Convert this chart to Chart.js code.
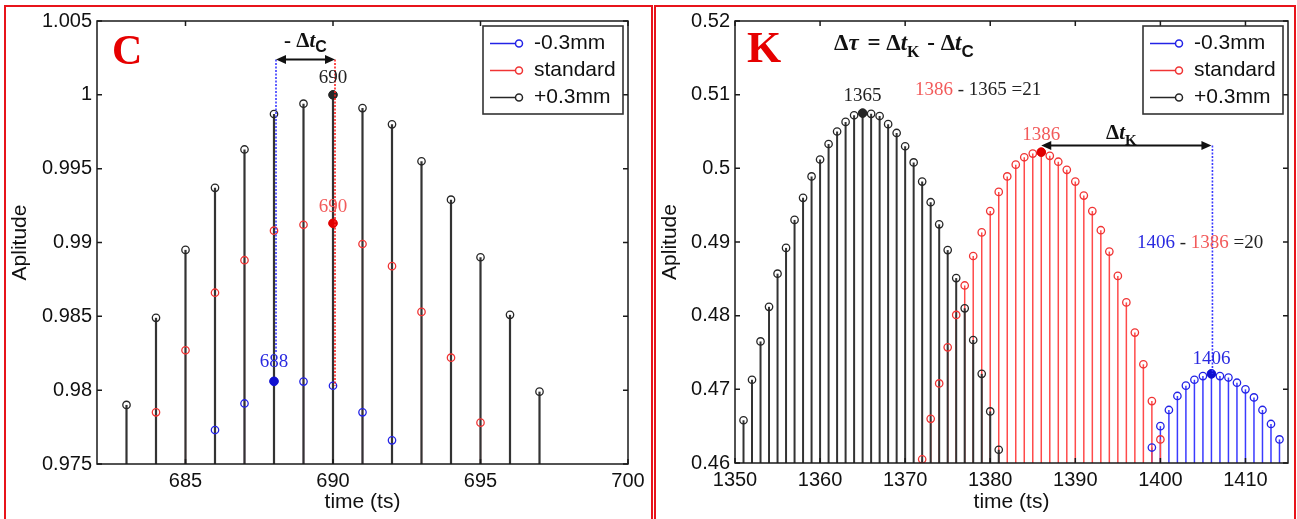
<!DOCTYPE html>
<html lang="en">
<head>
<meta charset="UTF-8">
<title>Stem plots C / K</title>
<script src="https://cdn.jsdelivr.net/npm/chart.js"></script>
<style>
    body { margin: 0; background: #fff; width: 1297px; height: 519px; overflow: hidden; position: relative; }
    .panel { position: absolute; top: 5px; height: 530px; border: 2px solid #e8141b; box-sizing: border-box; }
    #panelC { left: 4px; width: 649px; }
    #panelK { left: 654px; width: 642px; }
    canvas { position: absolute; top: 0; }
    #chartC { left: 0; }
    #chartK { left: 650px; }
</style>
</head>
<body>
<div class="panel" id="panelC"></div>
<div class="panel" id="panelK"></div>
<canvas id="chartC" width="650" height="519"></canvas>
<canvas id="chartK" width="647" height="519"></canvas>

<script>
    // ---- panel C ----
    const cPlusT = [683, 684, 685, 686, 687, 688, 689, 690, 691, 692, 693, 694, 695, 696, 697];
    const cPlus = [0.9790, 0.9849, 0.9895, 0.9937, 0.9963, 0.9987, 0.9994, 1.0000, 0.9991, 0.9980, 0.9955, 0.9929, 0.9890, 0.9851, 0.9799];
    const cStdT = [684, 685, 686, 687, 688, 689, 690, 691, 692, 693, 694, 695];
    const cStd = [0.9785, 0.9827, 0.9866, 0.9888, 0.9908, 0.9912, 0.9913, 0.9899, 0.9884, 0.9853, 0.9822, 0.9778];
    const cMinusT = [686, 687, 688, 689, 690, 691, 692];
    const cMinus = [0.9773, 0.9791, 0.9806, 0.98058, 0.9803, 0.9785, 0.9766];
    const cXTicks = [685, 690, 695, 700];
    const cYTicks = [0.975, 0.98, 0.985, 0.99, 0.995, 1, 1.005];
    const cYLabels = ['0.975', '0.98', '0.985', '0.99', '0.995', '1', '1.005'];

    // ---- panel K ----
    const kPlusT = [1351, 1352, 1353, 1354, 1355, 1356, 1357, 1358, 1359, 1360, 1361, 1362, 1363, 1364, 1365, 1366,
                    1367, 1368, 1369, 1370, 1371, 1372, 1373, 1374, 1375, 1376, 1377, 1378, 1379, 1380, 1381];
    const kPlus = [0.4658, 0.4713, 0.4765, 0.4812, 0.4857, 0.4892, 0.4930, 0.4960, 0.4989, 0.5012, 0.5033, 0.5050, 0.5063, 0.5072, 0.5075, 0.5074,
                   0.5071, 0.5060, 0.5048, 0.5030, 0.5008, 0.4982, 0.4954, 0.4924, 0.4889, 0.4851, 0.4810, 0.4767, 0.4721, 0.4670, 0.4618];
    const kStdT = [1372, 1373, 1374, 1375, 1376, 1377, 1378, 1379, 1380, 1381, 1382, 1383, 1384, 1385, 1386,
                   1387, 1388, 1389, 1390, 1391, 1392, 1393, 1394, 1395, 1396, 1397, 1398, 1399, 1400];
    const kStd = [0.4605, 0.4660, 0.4708, 0.4757, 0.4801, 0.4841, 0.4881, 0.4913, 0.4942, 0.4968, 0.4989, 0.5005, 0.5015, 0.5020, 0.5022,
                  0.5017, 0.5009, 0.4998, 0.4982, 0.4963, 0.4942, 0.4916, 0.4887, 0.4854, 0.4818, 0.4777, 0.4734, 0.4684, 0.4632];
    const kMinusT = [1399, 1400, 1401, 1402, 1403, 1404, 1405, 1406, 1407, 1408, 1409, 1410, 1411, 1412, 1413, 1414];
    const kMinus = [0.4621, 0.4650, 0.4672, 0.4691, 0.4705, 0.4713, 0.4718, 0.4721, 0.4718, 0.4716, 0.4709, 0.4700, 0.4689, 0.4672, 0.4653, 0.4632];
    const kXTicks = [1350, 1360, 1370, 1380, 1390, 1400, 1410];
    const kYTicks = [0.46, 0.47, 0.48, 0.49, 0.5, 0.51, 0.52];
    const kYLabels = ['0.46', '0.47', '0.48', '0.49', '0.5', '0.51', '0.52'];

    // peak samples picked out on each panel
    const cPeakT = { minus: 688, std: 690, plus: 690 };
    const kPeakT = { minus: 1406, std: 1386, plus: 1365 };

    const seriesNames = ['-0.3mm', 'standard', '+0.3mm'];

    const SANS = '"Liberation Sans", Arial, sans-serif';
    const SERIF = '"Liberation Serif", "Times New Roman", serif';
    const markColor = { minus: '#2323e6', std: '#f03434', plus: '#262626' };
    const stemColor = { minus: '#3a3aff', std: '#ff4a4a', plus: '#333' };
    const labelColor = { minus: '#2a2ae0', std: '#f25a5a', plus: '#222' };
    const legendColors = [markColor.minus, markColor.std, markColor.plus];

    Chart.defaults.font.family = SANS;

    function pts(ts, vs) { return ts.map((t, i) => ({ x: t, y: vs[i] })); }
    function valueAt(ts, vs, t) { return vs[ts.indexOf(t)]; }

    // the +0.3mm stems sit on top and are a little wider so they hide the others fully
    function stemSet(ts, vs, color, base, width, order) {
        return { type: 'bar', data: pts(ts, vs), backgroundColor: color, borderWidth: 0, inflateAmount: 0,
                 barThickness: width, grouped: false, base: base, order: order };
    }
    function markerSet(ts, vs, color, order) {
        return { type: 'scatter', data: pts(ts, vs), borderColor: color, backgroundColor: 'rgba(255,255,255,0)',
                 pointRadius: 3.7, pointBorderWidth: 1.3, order: order };
    }
    function peakSet(list, order) {
        return { type: 'scatter', data: list.map(p => ({ x: p.t, y: p.v })),
                 pointBackgroundColor: list.map(p => p.c), pointBorderColor: list.map(p => p.c),
                 pointRadius: 4.3, pointBorderWidth: 1, order: order };
    }

    function scaleSet(xMin, xMax, xTicks, yTicks, yLabels, yWidth, xHeight) {
        return {
            x: {
                type: 'linear', min: xMin, max: xMax, offset: false,
                grid: { display: false, drawTicks: false }, border: { display: false },
                afterBuildTicks: s => { s.ticks = xTicks.map(v => ({ value: v })); },
                afterFit: s => { s.height = xHeight; },
                ticks: { color: '#111', font: { size: 20 }, padding: 5, maxRotation: 0, autoSkip: false, callback: v => String(v) },
                title: { display: true, text: 'time (ts)', color: '#111', font: { size: 21 }, padding: { top: 0, bottom: 4 } }
            },
            y: {
                type: 'linear', min: yTicks[0], max: yTicks[yTicks.length - 1], beginAtZero: false,
                grid: { display: false, drawTicks: false }, border: { display: false },
                afterBuildTicks: s => { s.ticks = yTicks.map(v => ({ value: v })); },
                afterFit: s => { s.width = yWidth; },
                ticks: { color: '#111', font: { size: 20 }, padding: 5, autoSkip: false, callback: (v, i) => yLabels[i] },
                title: { display: true, text: 'Aplitude', color: '#111', font: { size: 21 }, padding: { top: 8, bottom: 0 } }
            }
        };
    }

    // box and inward tick marks on all four sides
    const frame = {
        id: 'frame',
        afterDatasetsDraw(chart) {
            const { ctx, chartArea: a, scales: { x, y } } = chart;
            ctx.save();
            ctx.strokeStyle = '#1a1a1a';
            ctx.lineWidth = 1.5;
            ctx.strokeRect(a.left, a.top, a.right - a.left, a.bottom - a.top);
            ctx.beginPath();
            x.ticks.forEach(t => {
                const px = x.getPixelForValue(t.value);
                ctx.moveTo(px, a.bottom); ctx.lineTo(px, a.bottom - 5);
                ctx.moveTo(px, a.top); ctx.lineTo(px, a.top + 5);
            });
            y.ticks.forEach(t => {
                const py = y.getPixelForValue(t.value);
                ctx.moveTo(a.left, py); ctx.lineTo(a.left + 5, py);
                ctx.moveTo(a.right, py); ctx.lineTo(a.right - 5, py);
            });
            ctx.stroke();
            ctx.restore();
        }
    };

    // legend box in the upper right corner of the plot
    const boxLegend = {
        id: 'boxLegend',
        afterDraw(chart) {
            const { ctx, chartArea: a } = chart;
            const w = 140, h = 88;
            const left = a.right - 5 - w, top = a.top + 5;
            ctx.save();
            ctx.fillStyle = '#fff';
            ctx.fillRect(left, top, w, h);
            ctx.strokeStyle = '#333';
            ctx.lineWidth = 1.6;
            ctx.strokeRect(left, top, w, h);
            ctx.font = '21px ' + SANS;
            ctx.textBaseline = 'middle';
            seriesNames.forEach((name, i) => {
                const cy = top + 17.5 + 27 * i;
                ctx.strokeStyle = legendColors[i];
                ctx.lineWidth = 1.5;
                ctx.beginPath(); ctx.moveTo(left + 7, cy); ctx.lineTo(left + 32, cy); ctx.stroke();
                ctx.beginPath(); ctx.arc(left + 36, cy, 3.5, 0, 2 * Math.PI);
                ctx.fillStyle = '#fff'; ctx.fill(); ctx.stroke();
                ctx.fillStyle = '#111';
                ctx.fillText(name, left + 51, cy);
            });
            ctx.restore();
        }
    };

    // text made of differently styled pieces (subscripts, italics, colours)
    function drawRuns(ctx, x, y, runs, align) {
        let total = 0;
        runs.forEach(r => { ctx.font = r.font; total += ctx.measureText(r.text).width + (r.gap || 0); });
        let cx = align === 'center' ? x - total / 2 : x;
        runs.forEach(r => {
            ctx.font = r.font;
            ctx.fillStyle = r.color || '#111';
            ctx.fillText(r.text, cx, y + (r.dy || 0));
            cx += ctx.measureText(r.text).width + (r.gap || 0);
        });
    }

    function arrow(ctx, x1, x2, y) {
        ctx.strokeStyle = '#111';
        ctx.fillStyle = '#111';
        ctx.lineWidth = 2;
        ctx.beginPath(); ctx.moveTo(x1 + 6, y); ctx.lineTo(x2 - 6, y); ctx.stroke();
        [[x1, 1], [x2, -1]].forEach(([px, d]) => {
            ctx.beginPath();
            ctx.moveTo(px, y);
            ctx.lineTo(px + d * 10, y - 4.5);
            ctx.lineTo(px + d * 10, y + 4.5);
            ctx.closePath();
            ctx.fill();
        });
    }

    function dotted(ctx, x, y1, y2, color) {
        ctx.save();
        ctx.strokeStyle = color;
        ctx.lineWidth = 1.6;
        ctx.setLineDash([2, 1.5]);
        ctx.beginPath(); ctx.moveTo(x, y1); ctx.lineTo(x, y2); ctx.stroke();
        ctx.restore();
    }

    function valueLabel(ctx, text, px, py, color) {
        ctx.font = '19px ' + SERIF;
        ctx.fillStyle = color;
        ctx.textAlign = 'center';
        ctx.textBaseline = 'middle';
        ctx.fillText(text, px, py);
        ctx.textAlign = 'left';
        ctx.textBaseline = 'alphabetic';
    }

    const B = 'bold 21px ' + SERIF, BI = 'italic bold 21px ' + SERIF;
    const B2 = 'bold 23px ' + SERIF, BI2 = 'italic bold 23px ' + SERIF;

    const cNotes = {
        id: 'cNotes',
        afterDraw(chart) {
            const { ctx, chartArea: a, scales: { x, y } } = chart;
            ctx.save();
            ctx.font = 'bold 42px ' + SERIF;
            ctx.fillStyle = '#e60000';
            ctx.fillText('C', a.left + 15, a.top + 43);

            const xm = x.getPixelForValue(cPeakT.minus) + 2;
            const xs = x.getPixelForValue(cPeakT.std) + 2;
            const ay = y.getPixelForValue(1.0024);
            const ym = y.getPixelForValue(valueAt(cMinusT, cMinus, cPeakT.minus));
            dotted(ctx, xm, ay, ym - 28, '#3a3aff');
            dotted(ctx, xs, ay, y.getPixelForValue(valueAt(cMinusT, cMinus, cPeakT.std)), '#ff2020');
            arrow(ctx, xm, xs, ay);
            drawRuns(ctx, (xm + xs) / 2, ay - 12, [
                { text: '- Δ', font: B }, { text: 't', font: BI },
                { text: 'C', font: 'bold 16px ' + SANS, dy: 5 }
            ], 'center');

            valueLabel(ctx, String(cPeakT.plus), x.getPixelForValue(cPeakT.plus),
                y.getPixelForValue(valueAt(cPlusT, cPlus, cPeakT.plus)) - 17, labelColor.plus);
            valueLabel(ctx, String(cPeakT.std), x.getPixelForValue(cPeakT.std),
                y.getPixelForValue(valueAt(cStdT, cStd, cPeakT.std)) - 16, labelColor.std);
            valueLabel(ctx, String(cPeakT.minus), x.getPixelForValue(cPeakT.minus),
                ym - 19, labelColor.minus);
            ctx.restore();
        }
    };

    const kNotes = {
        id: 'kNotes',
        afterDraw(chart) {
            const { ctx, chartArea: a, scales: { x, y } } = chart;
            ctx.save();
            ctx.font = 'bold 44px ' + SERIF;
            ctx.fillStyle = '#e60000';
            ctx.fillText('K', a.left + 12, a.top + 41);

            drawRuns(ctx, a.left + 99, a.top + 29, [
                { text: 'Δ', font: B2 }, { text: 'τ', font: BI2, gap: 3 }, { text: ' = Δ', font: B2 }, { text: 't', font: BI2 },
                { text: 'K', font: 'bold 16px ' + SERIF, dy: 7, gap: 2 }, { text: ' - Δ', font: B2 }, { text: 't', font: BI2 },
                { text: 'C', font: 'bold 17px ' + SANS, dy: 7 }
            ]);

            const xs = x.getPixelForValue(kPeakT.std);
            const xm = x.getPixelForValue(kPeakT.minus);
            const ay = y.getPixelForValue(0.5031);
            const ym = y.getPixelForValue(valueAt(kMinusT, kMinus, kPeakT.minus));
            dotted(ctx, xm + 1, ay, ym, '#3a3aff');
            arrow(ctx, xs, xm, ay);
            drawRuns(ctx, (xs + xm) / 2 - 5, ay - 6, [
                { text: 'Δ', font: B }, { text: 't', font: BI },
                { text: 'K', font: 'bold 15px ' + SERIF, dy: 6 }
            ], 'center');

            const N = '19px ' + SERIF;
            ctx.textBaseline = 'middle';
            drawRuns(ctx, a.left + 180, a.top + 69, [
                { text: String(kPeakT.std), font: N, color: labelColor.std },
                { text: ' - ' + kPeakT.plus + ' =' + (kPeakT.std - kPeakT.plus), font: N, color: '#222' }
            ]);
            drawRuns(ctx, a.left + 402, a.top + 222, [
                { text: String(kPeakT.minus), font: N, color: labelColor.minus },
                { text: ' - ', font: N, color: '#222' },
                { text: String(kPeakT.std), font: N, color: labelColor.std },
                { text: ' =' + (kPeakT.minus - kPeakT.std), font: N, color: '#222' }
            ]);
            ctx.textBaseline = 'alphabetic';

            valueLabel(ctx, String(kPeakT.plus), x.getPixelForValue(kPeakT.plus),
                y.getPixelForValue(valueAt(kPlusT, kPlus, kPeakT.plus)) - 17, labelColor.plus);
            valueLabel(ctx, String(kPeakT.std), xs,
                y.getPixelForValue(valueAt(kStdT, kStd, kPeakT.std)) - 17, labelColor.std);
            valueLabel(ctx, String(kPeakT.minus), xm, ym - 15, labelColor.minus);
            ctx.restore();
        }
    };

    function baseOptions(scales, padRight, padTop) {
        return {
            responsive: false,
            animation: false,
            devicePixelRatio: 1,
            events: [],
            layout: { padding: { left: 0, right: padRight, top: padTop, bottom: 0 } },
            plugins: { legend: { display: false }, tooltip: { enabled: false } },
            scales: scales
        };
    }

    new Chart(document.getElementById('chartC'), {
        type: 'bar',
        data: {
            datasets: [
                peakSet([
                    { t: cPeakT.plus, v: valueAt(cPlusT, cPlus, cPeakT.plus), c: markColor.plus },
                    { t: cPeakT.std, v: valueAt(cStdT, cStd, cPeakT.std), c: '#e00000' },
                    { t: cPeakT.minus, v: valueAt(cMinusT, cMinus, cPeakT.minus), c: '#1010d0' }
                ], 0),
                markerSet(cPlusT, cPlus, markColor.plus, 1),
                markerSet(cStdT, cStd, markColor.std, 2),
                markerSet(cMinusT, cMinus, markColor.minus, 3),
                stemSet(cPlusT, cPlus, stemColor.plus, cYTicks[0], 2.2, 4),
                stemSet(cStdT, cStd, stemColor.std, cYTicks[0], 1.2, 5),
                stemSet(cMinusT, cMinus, stemColor.minus, cYTicks[0], 1.2, 6)
            ]
        },
        options: baseOptions(scaleSet(682, 700, cXTicks, cYTicks, cYLabels, 97, 55), 22, 21),
        plugins: [frame, cNotes, boxLegend]
    });

    new Chart(document.getElementById('chartK'), {
        type: 'bar',
        data: {
            datasets: [
                peakSet([
                    { t: kPeakT.plus, v: valueAt(kPlusT, kPlus, kPeakT.plus), c: markColor.plus },
                    { t: kPeakT.std, v: valueAt(kStdT, kStd, kPeakT.std), c: '#e00000' },
                    { t: kPeakT.minus, v: valueAt(kMinusT, kMinus, kPeakT.minus), c: '#1010d0' }
                ], 0),
                markerSet(kPlusT, kPlus, markColor.plus, 1),
                markerSet(kStdT, kStd, markColor.std, 2),
                markerSet(kMinusT, kMinus, markColor.minus, 3),
                stemSet(kPlusT, kPlus, stemColor.plus, kYTicks[0], 2, 4),
                stemSet(kStdT, kStd, stemColor.std, kYTicks[0], 1.5, 5),
                stemSet(kMinusT, kMinus, stemColor.minus, kYTicks[0], 1.5, 6)
            ]
        },
        options: baseOptions(scaleSet(1350, 1415, kXTicks, kYTicks, kYLabels, 85, 56), 9, 21),
        plugins: [frame, kNotes, boxLegend]
    });
</script>
</body>
</html>
